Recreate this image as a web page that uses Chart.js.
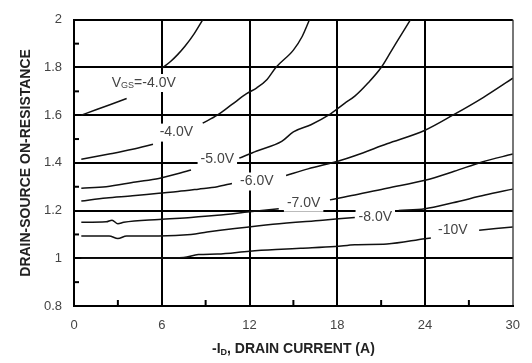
<!DOCTYPE html>
<html lang="en">
<head>
  <meta charset="UTF-8">
  <title>Drain-Source On-Resistance</title>
  <script src="https://cdn.jsdelivr.net/npm/chart.js"></script>
  <style>
    html, body { margin: 0; padding: 0; background: #fff; }
  </style>
</head>
<body>
  <canvas id="rdsChart" width="532" height="363"></canvas>

  <script>
    // axis ticks
    const xTicks = [0, 6, 12, 18, 24, 30];
    const yTicks = [0.8, 1, 1.2, 1.4, 1.6, 1.8, 2];

    // curves (null = break where the label sits)
    const vgsA_X = [0.5, 1.5, 2.5, 3.6, 4.8, 6.0, 6.6, 7.1, 7.6, 8.2, 8.8];
    const vgsA_Y = [1.60, 1.623, 1.645, 1.67, null, 1.796, 1.825, 1.855, 1.89, 1.94, 2.0];

    const vgsB_X = [0.5, 2.4, 4.0, 5.4, 7.0, 8.8, 9.8, 10.8, 11.8, 12.5, 13.2, 13.8, 15.0, 15.6, 16.1];
    const vgsB_Y = [1.415, 1.437, 1.457, 1.478, null, 1.567, 1.6, 1.645, 1.69, 1.715, 1.75, 1.80, 1.873, 1.93, 2.0];

    const vgs5_X = [0.5, 2.2, 4.2, 5.8, 8.0, 9.8, 11.3, 12.5, 14.2, 15.0, 16.2, 17.4, 18.5, 19.2, 20.1, 21.0, 21.7, 22.4, 23.0];
    const vgs5_Y = [1.294, 1.30, 1.32, 1.335, 1.37, null, 1.42, 1.45, 1.49, 1.53, 1.56, 1.6, 1.65, 1.68, 1.735, 1.80, 1.87, 1.94, 2.0];

    const vgs6_X = [0.5, 2.2, 4.0, 5.8, 7.1, 8.5, 9.8, 10.8, 12.5, 14.5, 16.0, 18.2, 19.2, 21.4, 24.0, 25.9, 28.0, 30.0];
    const vgs6_Y = [1.24, 1.253, 1.262, 1.273, 1.28, 1.29, 1.30, 1.314, null, 1.347, 1.375, 1.41, 1.43, 1.48, 1.537, 1.6, 1.675, 1.755];

    const vgs7_X = [0.5, 2.2, 2.6, 3.0, 3.4, 5.8, 8.0, 9.8, 12.0, 14.0, 15.7, 17.5, 19.2, 21.4, 24.0, 26.0, 27.9, 30.0];
    const vgs7_Y = [1.151, 1.153, 1.16, 1.145, 1.151, 1.163, 1.171, 1.18, 1.195, 1.208, null, 1.245, 1.265, 1.294, 1.327, 1.365, 1.404, 1.437];

    const vgs8_X = [0.5, 2.4, 3.0, 3.6, 5.8, 8.0, 9.1, 11.0, 13.6, 17.0, 19.2, 20.6, 22.2, 24.0, 25.9, 28.1, 30.0];
    const vgs8_Y = [1.094, 1.094, 1.083, 1.094, 1.094, 1.10, 1.11, 1.125, 1.143, 1.16, 1.171, null, 1.2, 1.208, 1.233, 1.265, 1.29];

    const vgs10_X = [0.5, 1.4, 4.0, 7.5, 8.5, 9.8, 12.0, 13.8, 15.5, 17.85, 19.2, 21.4, 24.0, 24.4, 25.9, 27.7, 30.0];
    const vgs10_Y = [1.0, 1.0, 1.0, 1.003, 1.016, 1.018, 1.03, 1.037, 1.042, 1.049, 1.057, 1.06, 1.082, 1.085, null, 1.118, 1.131];

    const curves = [
      [vgsA_X, vgsA_Y], [vgsB_X, vgsB_Y], [vgs5_X, vgs5_Y], [vgs6_X, vgs6_Y],
      [vgs7_X, vgs7_Y], [vgs8_X, vgs8_Y], [vgs10_X, vgs10_Y]
    ];

    // curve labels, placed in data units
    const curveNotes = [
      { parts: [['V', 14, 0], ['GS', 9, 3], ['=-4.0V', 14, 0]], x: 4.77, y: 1.735 },
      { parts: [['-4.0V', 14, 0]], x: 7.0, y: 1.527 },
      { parts: [['-5.0V', 14, 0]], x: 9.8, y: 1.416 },
      { parts: [['-6.0V', 14, 0]], x: 12.5, y: 1.322 },
      { parts: [['-7.0V', 14, 0]], x: 15.7, y: 1.233 },
      { parts: [['-8.0V', 14, 0]], x: 20.6, y: 1.171 },
      { parts: [['-10V', 14, 0]], x: 25.9, y: 1.118 }
    ];

    const FONT = '"Liberation Sans", Arial, sans-serif';

    function drawParts(ctx, parts, cx, cy, bold, color) {
      let total = 0;
      parts.forEach(p => {
        ctx.font = (bold ? 'bold ' : '') + p[1] + 'px ' + FONT;
        total += ctx.measureText(p[0]).width;
      });
      let x = cx - total / 2;
      ctx.fillStyle = color;
      ctx.textAlign = 'left';
      ctx.textBaseline = 'middle';
      parts.forEach(p => {
        ctx.font = (bold ? 'bold ' : '') + p[1] + 'px ' + FONT;
        ctx.fillText(p[0], x, cy + p[2]);
        x += ctx.measureText(p[0]).width;
      });
      return total;
    }

    const extras = {
      id: 'extras',
      afterDatasetsDraw(chart) {
        const { ctx, chartArea: a, scales: { x, y } } = chart;
        ctx.save();
        // minor ticks
        ctx.strokeStyle = '#000';
        ctx.lineWidth = 2;
        for (let v = 3; v < 30; v += 6) {
          const px = x.getPixelForValue(v);
          ctx.beginPath(); ctx.moveTo(px, a.bottom); ctx.lineTo(px, a.bottom - 6); ctx.stroke();
        }
        for (let v = 0.9; v < 2; v += 0.2) {
          const py = y.getPixelForValue(v);
          ctx.beginPath(); ctx.moveTo(a.left, py); ctx.lineTo(a.left + 5, py); ctx.stroke();
        }
        // curve labels on white boxes
        curveNotes.forEach(n => {
          const cx = x.getPixelForValue(n.x), cy = y.getPixelForValue(n.y);
          let w = 0;
          n.parts.forEach(p => { ctx.font = p[1] + 'px ' + FONT; w += ctx.measureText(p[0]).width; });
          ctx.fillStyle = '#fff';
          ctx.fillRect(cx - w / 2 - 3, cy - 9, w + 6, 18);
          drawParts(ctx, n.parts, cx, cy, false, '#444');
        });
        ctx.restore();
      },
      afterDraw(chart) {
        const { ctx, chartArea: a } = chart;
        ctx.save();
        drawParts(ctx, [['-I', 14, 0], ['D', 9, 4], [', DRAIN CURRENT (A)', 14, 0]],
          (a.left + a.right) / 2, 349, true, '#222');
        ctx.translate(26, (a.top + a.bottom) / 2);
        ctx.rotate(-Math.PI / 2);
        drawParts(ctx, [['DRAIN-SOURCE ON-RESISTANCE', 14, 0]], 0, 0, true, '#222');
        ctx.restore();
      }
    };

    new Chart(document.getElementById('rdsChart'), {
      type: 'line',
      data: {
        datasets: curves.map(c => ({
          data: c[0].map((v, i) => ({ x: v, y: c[1][i] })),
          borderColor: '#111',
          borderWidth: 1.5,
          pointRadius: 0,
          cubicInterpolationMode: 'monotone',
          spanGaps: false,
          fill: false
        }))
      },
      options: {
        responsive: false,
        animation: false,
        layout: { padding: { top: 12, right: 11, left: 0, bottom: 0 } },
        plugins: { legend: { display: false }, tooltip: { enabled: false } },
        scales: {
          x: {
            type: 'linear',
            min: xTicks[0],
            max: xTicks[xTicks.length - 1],
            afterBuildTicks: s => { s.ticks = xTicks.map(v => ({ value: v })); },
            afterFit: s => { s.height = 57; },
            grid: { color: ctx => ctx.tick && ctx.tick.value === 30 ? '#777' : '#000', lineWidth: 2, drawTicks: false },
            border: { color: '#000', width: 2 },
            ticks: { padding: 12, color: '#444', font: { family: FONT, size: 13 } }
          },
          y: {
            type: 'linear',
            min: yTicks[0],
            max: yTicks[yTicks.length - 1],
            afterBuildTicks: s => { s.ticks = yTicks.map(v => ({ value: v })); },
            afterFit: s => { s.width = 74; },
            grid: { color: '#000', lineWidth: 2, drawTicks: false },
            border: { color: '#000', width: 2 },
            ticks: {
              padding: 12, color: '#444', font: { family: FONT, size: 13 },
              callback: v => String(Number(v.toFixed(1)))
            }
          }
        }
      },
      plugins: [extras]
    });
  </script>
</body>
</html>
